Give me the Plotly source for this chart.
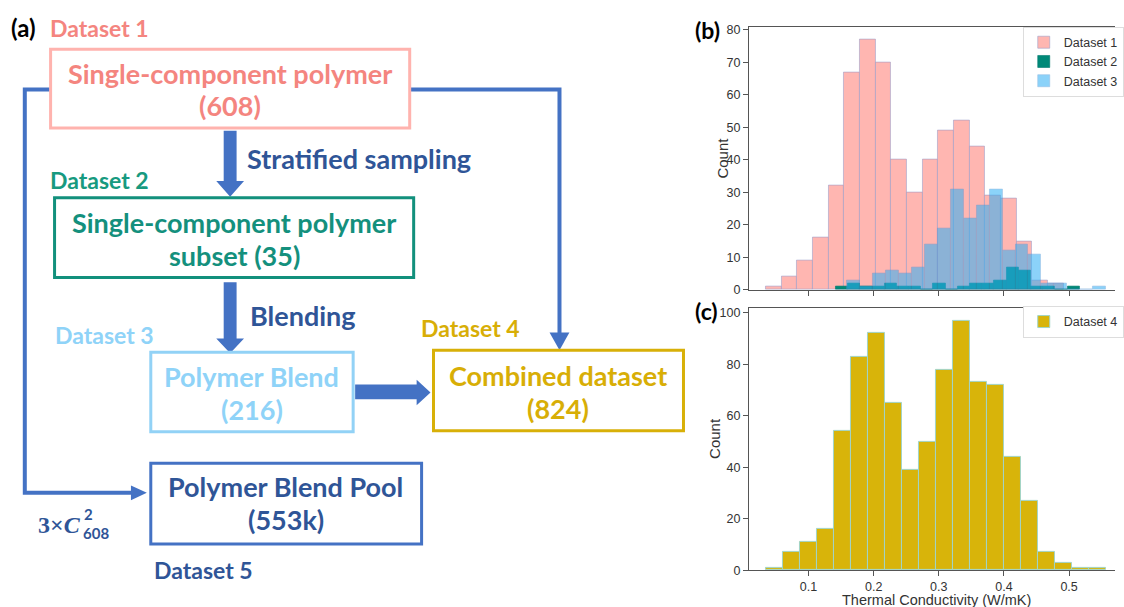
import numpy as np
import plotly.graph_objects as go

# ---------------- data ----------------
ds1_counts = [1, 4, 9, 16, 32, 67, 77, 70, 40, 30, 40, 49, 52, 44, 29, 28, 15, 3, 2]
ds1_start, ds1_width = 0.0345, 0.02406
ds2_counts = [1, 2, 1, 1, 2, 1, 1, 0, 2, 0, 1, 2, 2, 3, 7, 6, 1, 1, 0, 1]
ds2_start, ds2_width = 0.1421, 0.01871
ds3_counts = [3, 1, 5, 6, 5, 7, 14, 19, 31, 22, 26, 31, 12, 14, 11, 2, 2, 0, 0, 1]
ds3_start, ds3_width = 0.1594, 0.01987
ds4_counts = [1, 7, 11, 16, 54, 83, 92, 65, 39, 50, 78, 97, 73, 72, 44, 27, 7, 3, 1, 1]
ds4_start, ds4_width = 0.0345, 0.02609

x_ticks = [0.1, 0.2, 0.3, 0.4, 0.5]
x_ticklabels = ["0.1", "0.2", "0.3", "0.4", "0.5"]
yb_ticks = [0, 10, 20, 30, 40, 50, 60, 70, 80]
yc_ticks = [0, 20, 40, 60, 80, 100]

W, H = 1124, 607


def edges(start, width, counts):
    return start + width * np.arange(len(counts))


def px(x):
    return x / W


def py(y):
    return 1 - y / H


C_PINK = "rgb(255,182,177)"
C_TEAL = "rgb(0,137,120)"
C_BLUE = "rgb(45,175,245)"
C_GOLD = "rgb(216,180,10)"
SANS = "Liberation Sans, Arial, sans-serif"

fig = go.Figure()
fig.add_trace(go.Bar(x=edges(ds1_start, ds1_width, ds1_counts), y=ds1_counts, width=ds1_width, offset=0,
                     name="Dataset 1", marker=dict(color=C_PINK, line=dict(color="rgba(150,155,200,0.55)", width=1)),
                     xaxis="x", yaxis="y", legend="legend"))
fig.add_trace(go.Bar(x=edges(ds2_start, ds2_width, ds2_counts), y=ds2_counts, width=ds2_width, offset=0,
                     name="Dataset 2", marker=dict(color=C_TEAL, line=dict(color="rgba(0,120,110,0.6)", width=1)),
                     xaxis="x", yaxis="y", legend="legend"))
fig.add_trace(go.Bar(x=edges(ds3_start, ds3_width, ds3_counts), y=ds3_counts, width=ds3_width, offset=0,
                     name="Dataset 3", opacity=0.55,
                     marker=dict(color=C_BLUE, line=dict(color="rgba(70,140,210,0.6)", width=1)),
                     xaxis="x", yaxis="y", legend="legend"))
fig.add_trace(go.Bar(x=edges(ds4_start, ds4_width, ds4_counts), y=ds4_counts, width=ds4_width, offset=0,
                     name="Dataset 4", marker=dict(color=C_GOLD, line=dict(color="rgb(160,212,200)", width=1)),
                     xaxis="x2", yaxis="y2", legend="legend2"))

axis_font = dict(family=SANS, size=12.5, color="#333")
common_x = dict(range=[0.0086, 0.5705], domain=[px(755), 1.0], showgrid=False, zeroline=False,
                showline=True, linecolor="#555", linewidth=1, mirror=True,
                ticks="outside", ticklen=5, tickcolor="#555", tickvals=x_ticks, ticktext=x_ticklabels,
                tickfont=axis_font)
common_y = dict(showgrid=False, zeroline=False, showline=True, linecolor="#555", linewidth=1,
                ticks="outside", ticklen=5, tickcolor="#555", tickfont=axis_font)

legend_font = dict(family=SANS, size=12.5, color="#333")
fig.update_layout(
    width=W, height=H, autosize=False,
    margin=dict(l=0, r=0, t=0, b=0),
    paper_bgcolor="white", plot_bgcolor="white",
    barmode="overlay", bargap=0,
    xaxis=dict(common_x, anchor="y", showticklabels=False),
    yaxis=dict(common_y, anchor="x", domain=[py(291.7), py(24)], range=[0, 81], tickvals=yb_ticks),
    xaxis2=dict(common_x, anchor="y2", showticklabels=True),
    yaxis2=dict(common_y, anchor="x2", domain=[py(576.7), py(310)], range=[0, 101.9], tickvals=yc_ticks),
    legend=dict(x=px(1031), y=py(24), xanchor="left", yanchor="top", bgcolor="white",
                bordercolor="#dddddd", borderwidth=1, font=legend_font, tracegroupgap=0, itemwidth=30),
    legend2=dict(x=px(1031), y=py(308), xanchor="left", yanchor="top", bgcolor="white",
                 bordercolor="#dddddd", borderwidth=1, font=legend_font, itemwidth=30),
    showlegend=True,
)

shapes = []
annos = []
BLUE_LINE = "#4472C4"
DARK_BLUE = "#2F5597"
FONT = "Lato, Open Sans, sans-serif"
SERIF = "Liberation Serif, DejaVu Serif, serif"


def rect(x0, y0, x1, y1, color, w=3):
    shapes.append(dict(type="rect", xref="paper", yref="paper", x0=px(x0), x1=px(x1), y0=py(y1), y1=py(y0),
                       line=dict(color=color, width=w), fillcolor="rgba(0,0,0,0)", layer="above"))


def poly(points, color):
    path = "M " + " L ".join(f"{px(x):.5f},{py(y):.5f}" for x, y in points) + " Z"
    shapes.append(dict(type="path", xref="paper", yref="paper", path=path, fillcolor=color,
                       line=dict(width=0), layer="above"))


def polyline(points, color, w=4):
    path = "M " + " L ".join(f"{px(x):.5f},{py(y):.5f}" for x, y in points)
    shapes.append(dict(type="path", xref="paper", yref="paper", path=path,
                       line=dict(color=color, width=w), fillcolor="rgba(0,0,0,0)", layer="above"))


def text(x, y, s, color, size, xanchor="left", yanchor="middle", family=FONT, bold=True, angle=0, pad=1):
    annos.append(dict(x=px(x), y=py(y), xref="paper", yref="paper", text=s, showarrow=False,
                      xanchor=xanchor, yanchor=yanchor, textangle=angle, borderpad=pad,
                      font=dict(family=family, size=size, color=color, weight="bold" if bold else "normal")))


# connectors
polyline([(51, 88), (25, 88), (25, 498), (133, 498)], BLUE_LINE)
poly([(132, 490.5), (148, 498), (132, 505.5)], BLUE_LINE)
polyline([(413, 88), (564, 88), (564, 336)], BLUE_LINE)
poly([(554, 335), (574, 335), (564, 353)], BLUE_LINE)

# block arrows
poly([(225.5, 130), (238.5, 130), (238.5, 181), (246, 181), (232, 197), (218, 181), (225.5, 181)], BLUE_LINE)
poly([(225.5, 284), (238.5, 284), (238.5, 341), (246, 341), (232, 356), (218, 341), (225.5, 341)], BLUE_LINE)
poly([(358, 388), (420, 388), (420, 383), (434, 396), (420, 409), (420, 403), (358, 403)], BLUE_LINE)

# boxes
rect(51, 47, 413, 127, "#FFB3AE")
rect(55, 198, 417, 279, "#12907C")
rect(152, 355, 356, 436, "#92D2F6")
rect(437, 353, 689, 435, "#D8B008")
rect(152, 468, 425, 550, BLUE_LINE)

BOX = 27
HEAD = 23
# labels
text(9, 25, "(a)", "black", 24)
text(48, 25, "Dataset 1", "#F4857F", HEAD)
text(232, 72, "Single-component polymer", "#F4857F", BOX, xanchor="center")
text(232, 104, "(608)", "#F4857F", BOX, xanchor="center")
text(247, 158, "Stratified sampling", DARK_BLUE, BOX)
text(48, 180, "Dataset 2", "#179A80", HEAD)
text(236, 223, "Single-component polymer", "#14907D", BOX, xanchor="center")
text(236, 257, "subset (35)", "#14907D", BOX, xanchor="center")
text(250, 318, "Blending", DARK_BLUE, BOX)
text(53, 338, "Dataset 3", "#8FD3F8", HEAD)
text(254, 380, "Polymer Blend", "#8FD3F8", BOX, xanchor="center")
text(254, 413, "(216)", "#8FD3F8", BOX, xanchor="center")
text(422, 330, "Dataset 4", "#D8AE06", HEAD)
text(563, 379, "Combined dataset", "#D8AE06", BOX, xanchor="center")
text(563, 412, "(824)", "#D8AE06", BOX, xanchor="center")
text(288, 492, "Polymer Blend Pool", DARK_BLUE, BOX, xanchor="center")
text(288, 525, "(553k)", DARK_BLUE, BOX, xanchor="center")
text(153, 577, "Dataset 5", DARK_BLUE, HEAD)
# 3 x C(608, 2): "C" with stacked superscript 2 and subscript 608
text(37, 531, "3×<i>C</i>", DARK_BLUE, 24, family=SERIF, pad=0)
text(84, 520, "2", DARK_BLUE, 15, pad=0)
text(83, 539, "608", DARK_BLUE, 15, pad=0)

# histogram panel labels and axis titles
text(699, 27, "(b)", "black", 23)
text(699, 313, "(c)", "black", 23)
text(728, 158, "Count", "#333", 15, xanchor="center", family=SANS, bold=False, angle=-90)
text(720, 443, "Count", "#333", 15, xanchor="center", family=SANS, bold=False, angle=-90)
text(944, 607, "Thermal Conductivity (W/mK)", "#333", 14.5, xanchor="center", family=SANS, bold=False)

fig.update_layout(shapes=shapes, annotations=annos)
fig.write_html("out.html")
